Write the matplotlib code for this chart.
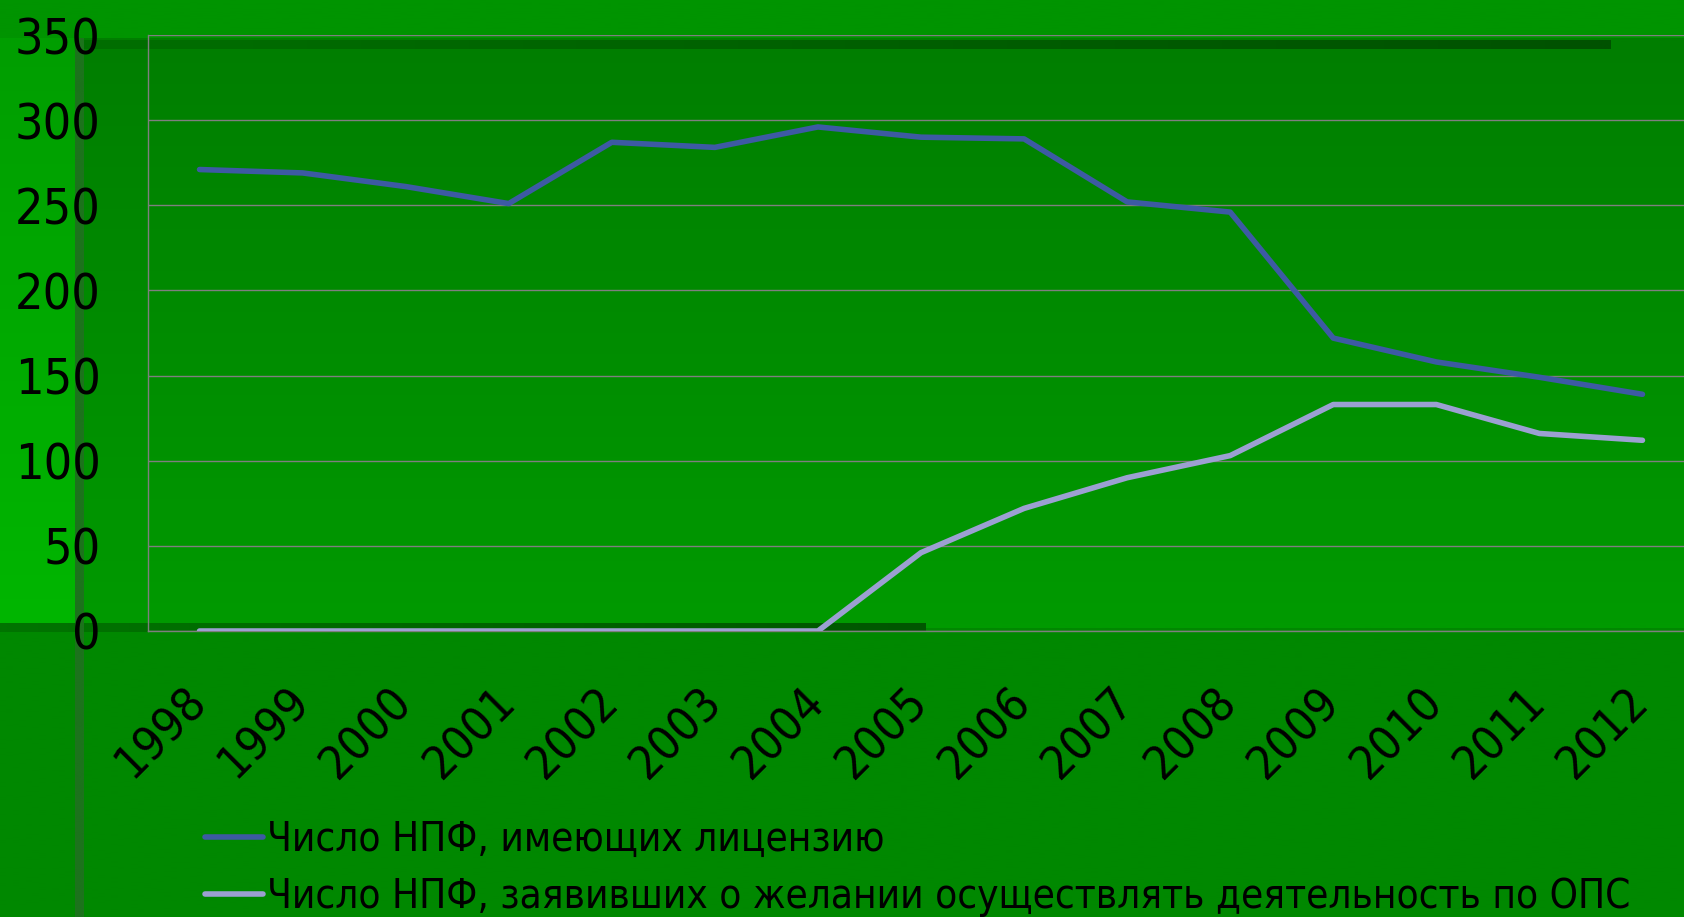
import numpy as np
import matplotlib
matplotlib.use("Agg")
import matplotlib.pyplot as plt
from matplotlib.colors import to_rgb

plt.rcParams['font.family'] = ['DejaVu Sans']
plt.rcParams['font.stretch'] = 'condensed'

# данные
years = ["1998", "1999", "2000", "2001", "2002", "2003", "2004", "2005",
         "2006", "2007", "2008", "2009", "2010", "2011", "2012"]
licensed = [271, 269, 261, 251, 287, 284, 296, 290, 289, 252, 246, 172, 158, 149, 139]
ops = [0, 0, 0, 0, 0, 0, 0, 46, 72, 90, 103, 133, 133, 116, 112]
label_lic = "Число НПФ, имеющих лицензию"
label_ops = "Число НПФ, заявивших о желании осуществлять деятельность по ОПС"
yticks = [0, 50, 100, 150, 200, 250, 300, 350]

W, H = 1684, 917
fig = plt.figure(figsize=(W / 100, H / 100), dpi=100)
fig.patch.set_facecolor("#008800")

# slide background (pixel coords)
bg = fig.add_axes([0, 0, 1, 1], zorder=-5)
bg.axis("off")

def vgrad(x0, x1, y0, y1, c0, c1):
    c0, c1 = np.array(to_rgb(c0)), np.array(to_rgb(c1))
    t = np.linspace(0, 1, 64)[:, None]
    img = (c0 * (1 - t) + c1 * t)[:, None, :]
    bg.imshow(img, extent=(x0, x1, y1, y0), aspect="auto", interpolation="bilinear")

def hgrad(x0, x1, y0, y1, c0, c1):
    c0, c1 = np.array(to_rgb(c0)), np.array(to_rgb(c1))
    t = np.linspace(0, 1, 64)[:, None]
    img = (c0 * (1 - t) + c1 * t)[None, :, :]
    bg.imshow(img, extent=(x0, x1, y1, y0), aspect="auto", interpolation="bilinear")

vgrad(0, W, 0, H, "#008800", "#008800")
vgrad(0, W, 0, 38, "#009400", "#009400")
vgrad(0, 75, 38, 628, "#009E00", "#00B600")
vgrad(84, W, 38, 628, "#007E00", "#009A00")
hgrad(0, 926, 623, 632, "#007400", "#005600")
hgrad(80, 1611, 40, 49, "#006E00", "#005200")
vgrad(75, 84, 38, H, "#1C731C", "#1C731C")
bg.set_xlim(0, W)
bg.set_ylim(H, 0)

ax = fig.add_axes([148 / W, 1 - 631 / H, (1694 - 148) / W, 596 / H])
ax.set_facecolor("none")
x = np.arange(len(years))
ax.plot(x, licensed, color="#3D5AA3", lw=4, solid_joinstyle="round",
        solid_capstyle="round", label=label_lic, zorder=3)
ax.plot(x, ops, color="#9CA0D2", lw=4, solid_joinstyle="round",
        solid_capstyle="round", label=label_ops, zorder=3)

ax.set_xlim(-0.5, len(years) - 0.5)
ax.set_ylim(0, 350)
ax.set_yticks(yticks)
ax.yaxis.grid(True, color="#7F7F7F", lw=1.0)
ax.set_axisbelow(True)
for s in ["top", "right"]:
    ax.spines[s].set_visible(False)
for s in ["left", "bottom"]:
    ax.spines[s].set_color("#7F7F7F")
    ax.spines[s].set_linewidth(1.0)

ax.set_xticks(x)
ax.set_xticklabels(years, rotation=45, ha="right", va="center",
                   rotation_mode="anchor")
ax.tick_params(axis="y", length=0, pad=34, labelsize=36)
ax.tick_params(axis="x", length=0, pad=46, labelsize=34)

fig.legend(loc="upper left", bbox_to_anchor=(205 / W, 1 - 820 / H),
           frameon=False, fontsize=29, handlelength=1.45, handletextpad=0.1,
           labelspacing=0.42, borderaxespad=0, borderpad=0)

fig.savefig("out.png", dpi=100, facecolor=fig.get_facecolor())
